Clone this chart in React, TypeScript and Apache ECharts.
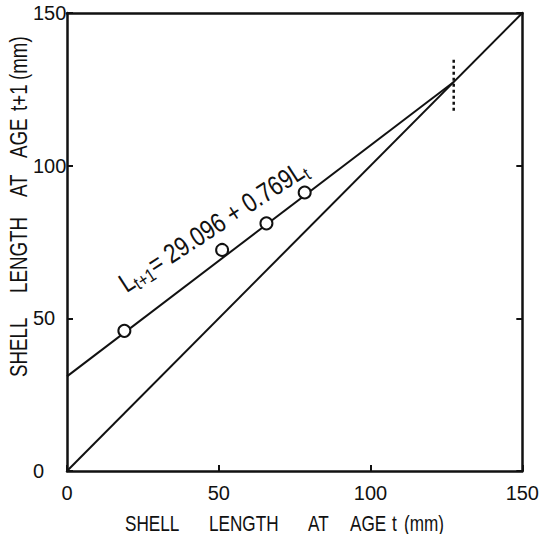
import React, { useEffect, useRef } from "react";
import * as echarts from "echarts";

const obsX = [18.9, 51.1, 65.7, 78.3];
const obsY = [45.9, 72.4, 81.1, 91.2];
const fitX = [0, 127.4];
const fitY = [31, 127.4];
const diagX = [0, 150];
const diagY = [0, 150];
const markX = [127.4, 127.4];
const markY = [118, 135];
const axisTicks = [0, 50, 100, 150];

const FONT = "'Liberation Sans', Arial, sans-serif";

const xTitleWords = [
  { t: "SHELL", x: 125 },
  { t: "LENGTH", x: 209 },
  { t: "AT", x: 308 },
  { t: "AGE", x: 350 },
  { t: "t", x: 392 },
  { t: "(mm)", x: 404 },
];
const yTitleWords = [
  { t: "SHELL", y: 377 },
  { t: "LENGTH", y: 293 },
  { t: "AT", y: 197 },
  { t: "AGE", y: 158 },
  { t: "t+1", y: 111 },
  { t: "(mm)", y: 80 },
];

export default function App() {
  const ref = useRef<HTMLDivElement>(null);
  useEffect(() => {
    if (!ref.current) return;
    const chart = echarts.init(ref.current, undefined, { renderer: "svg" });
    const zip = (a: number[], b: number[]) => a.map((v, i) => [v, b[i]]);
    const black = "#111";
    chart.setOption({
      animation: false,
      backgroundColor: "#fff",
      grid: { left: 67, right: 18, top: 13, bottom: 63 },
      xAxis: [
        {
          type: "value",
          min: axisTicks[0],
          max: axisTicks[axisTicks.length - 1],
          interval: 50,
          axisLine: { show: true, lineStyle: { color: black, width: 2.5 } },
          axisTick: { show: true, inside: true, length: 6, lineStyle: { color: black, width: 2 } },
          axisLabel: { color: black, fontSize: 20, fontFamily: FONT, margin: 12 },
          splitLine: { show: false },
        },
        {
          type: "value",
          position: "top",
          min: 0,
          max: 150,
          interval: 50,
          axisLine: { show: true, onZero: false, lineStyle: { color: black, width: 2.5 } },
          axisTick: { show: false },
          axisLabel: { show: false },
          splitLine: { show: false },
        },
      ],
      yAxis: [
        {
          type: "value",
          min: 0,
          max: 150,
          interval: 50,
          axisLine: { show: true, lineStyle: { color: black, width: 2.5 } },
          axisTick: { show: true, inside: true, length: 6, lineStyle: { color: black, width: 2 } },
          axisLabel: { color: black, fontSize: 20, fontFamily: FONT, margin: 34, align: "left" },
          splitLine: { show: false },
        },
        {
          type: "value",
          position: "right",
          min: 0,
          max: 150,
          interval: 50,
          axisLine: { show: true, onZero: false, lineStyle: { color: black, width: 2.5 } },
          axisTick: { show: true, inside: true, length: 6, lineStyle: { color: black, width: 2 } },
          axisLabel: { show: false },
          splitLine: { show: false },
        },
      ],
      series: [
        {
          type: "line",
          data: zip(diagX, diagY),
          symbol: "none",
          lineStyle: { color: black, width: 2 },
        },
        {
          type: "line",
          data: zip(fitX, fitY),
          symbol: "none",
          lineStyle: { color: black, width: 2 },
        },
        {
          type: "line",
          data: zip(markX, markY),
          symbol: "none",
          lineStyle: { color: black, width: 2.5, type: [3, 3] },
        },
        {
          type: "scatter",
          data: zip(obsX, obsY),
          symbol: "circle",
          symbolSize: 12,
          itemStyle: { color: "#fff", borderColor: black, borderWidth: 2, opacity: 1 },
          z: 5,
        },
      ],
      graphic: [
        ...xTitleWords.map((w) => ({
          type: "text",
          x: w.x,
          y: 523,
          scaleX: 0.78,
          style: { text: w.t, font: `22px ${FONT}`, fill: black, align: "left", verticalAlign: "middle" },
        })),
        ...yTitleWords.map((w) => ({
          type: "text",
          x: 19,
          y: w.y,
          rotation: Math.PI / 2,
          scaleX: 0.78,
          style: { text: w.t, font: `24px ${FONT}`, fill: black, align: "left", verticalAlign: "middle" },
        })),
        {
          type: "text",
          x: 213,
          y: 226,
          rotation: (33 * Math.PI) / 180,
          scaleX: 0.82,
          style: {
            text: "{a|L}{b|t+1}{a|= 29.096 + 0.769L}{b|t}",
            align: "center",
            verticalAlign: "middle",
            fill: black,
            rich: {
              a: { fontSize: 27, fontFamily: FONT, fill: black, lineHeight: 30 },
              b: { fontSize: 19, fontFamily: FONT, fill: black, padding: [14, 0, 0, 0] },
            },
          },
        },
      ],
    });
    return () => chart.dispose();
  }, []);
  return <div ref={ref} style={{ position: "fixed", left: 0, top: 0, width: 542, height: 534 }} />;
}
